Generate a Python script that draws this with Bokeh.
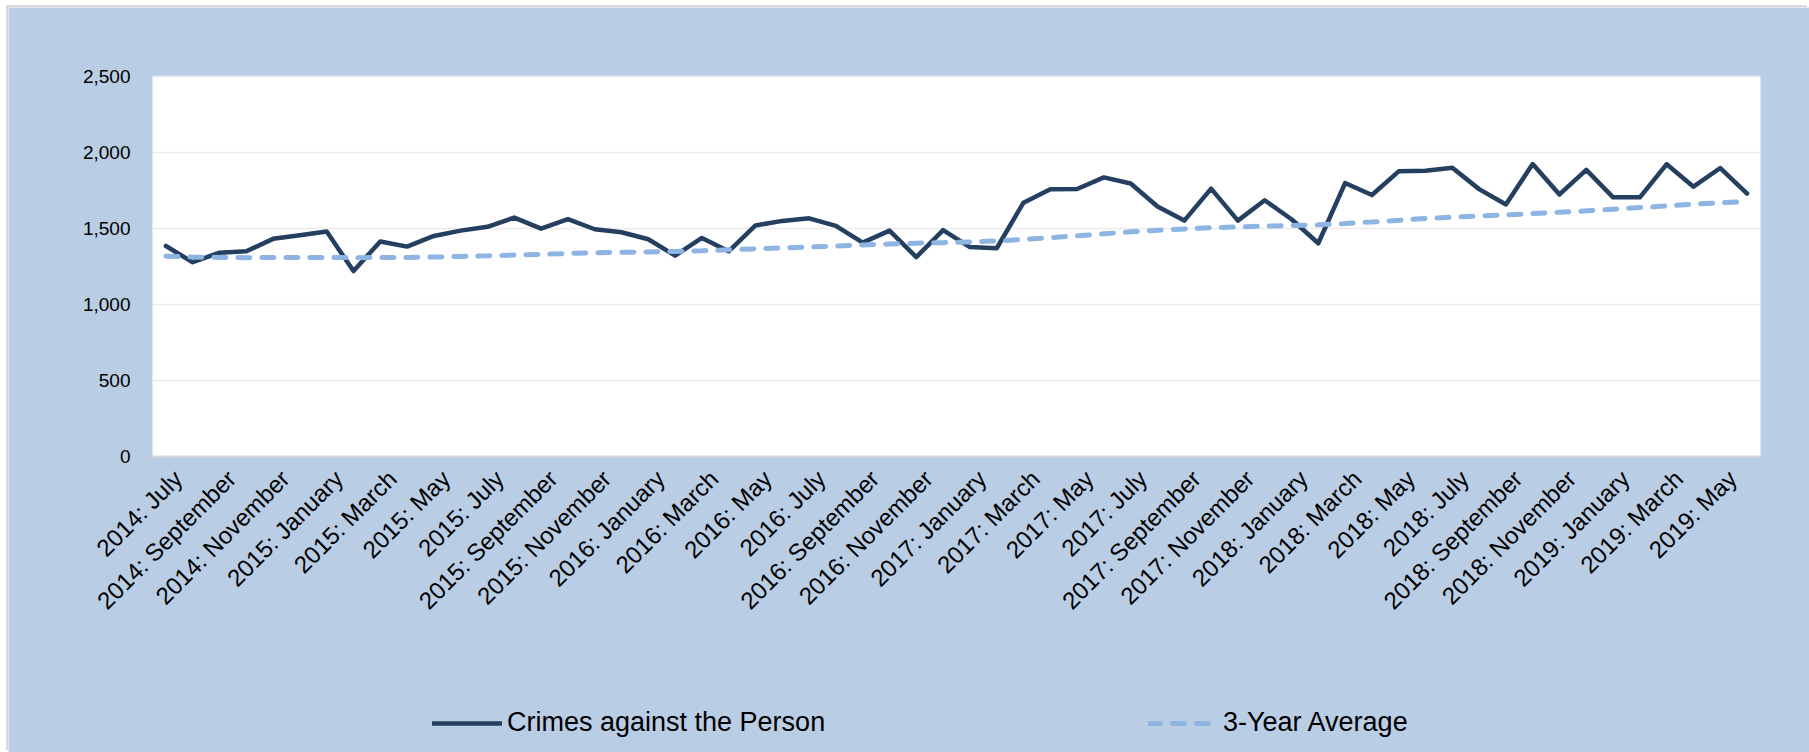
import math
from bokeh.plotting import figure
from bokeh.models import (Range1d, FixedTicker, Legend, LegendItem,
                          NumeralTickFormatter, BoxAnnotation)
from bokeh.embed import file_html
from bokeh.resources import INLINE

months = [
    "2014: July", "2014: August", "2014: September", "2014: October", "2014: November", "2014: December",
    "2015: January", "2015: February", "2015: March", "2015: April", "2015: May", "2015: June",
    "2015: July", "2015: August", "2015: September", "2015: October", "2015: November", "2015: December",
    "2016: January", "2016: February", "2016: March", "2016: April", "2016: May", "2016: June",
    "2016: July", "2016: August", "2016: September", "2016: October", "2016: November", "2016: December",
    "2017: January", "2017: February", "2017: March", "2017: April", "2017: May", "2017: June",
    "2017: July", "2017: August", "2017: September", "2017: October", "2017: November", "2017: December",
    "2018: January", "2018: February", "2018: March", "2018: April", "2018: May", "2018: June",
    "2018: July", "2018: August", "2018: September", "2018: October", "2018: November", "2018: December",
    "2019: January", "2019: February", "2019: March", "2019: April", "2019: May", "2019: June",
]

crimes = [
    1385, 1278, 1341, 1350, 1432, 1456, 1480, 1220, 1415, 1381, 1451, 1486,
    1511, 1572, 1499, 1561, 1495, 1475, 1429, 1322, 1438, 1350, 1520, 1550,
    1567, 1517, 1407, 1486, 1312, 1489, 1378, 1370, 1670, 1758, 1760, 1836,
    1796, 1645, 1552, 1762, 1552, 1686, 1561, 1403, 1799, 1720, 1876, 1880,
    1900, 1759, 1658, 1924, 1724, 1886, 1705, 1705, 1923, 1775, 1898, 1730,
]

avg3 = [
    1318, 1312, 1310, 1308, 1309, 1310, 1310, 1308, 1309, 1310, 1312, 1316,
    1320, 1325, 1330, 1336, 1340, 1343, 1346, 1349, 1354, 1360, 1366, 1372,
    1378, 1385, 1392, 1398, 1403, 1407, 1412, 1418, 1428, 1440, 1452, 1465,
    1478, 1489, 1497, 1505, 1510, 1516, 1520, 1524, 1533, 1543, 1554, 1566,
    1575, 1583, 1590, 1598, 1607, 1616, 1627, 1638, 1649, 1660, 1669, 1677,
]

tick_labels = months[::2]
y_ticks = [0, 500, 1000, 1500, 2000, 2500]
y_max = 2500

series_names = ["Crimes against the Person", "3-Year Average"]

x = list(range(len(months)))
x_lo, x_hi = -0.5, len(months) - 0.5

FONT = "Liberation Sans"
BG = "#B9CDE5"

# ---- layout (pixels inside the figure) ----
W, H = 1801, 745
PA_LEFT, PA_RIGHT = 144, 1752      # plot area left/right
PA_TOP, PA_BOTTOM = 69, 449        # plot area top (2,500) / bottom (0)
px_per_x = (PA_RIGHT - PA_LEFT) / (x_hi - x_lo)
px_per_y = (PA_BOTTOM - PA_TOP) / y_max
xr = Range1d(x_lo - PA_LEFT / px_per_x, x_hi + (W - PA_RIGHT) / px_per_x)
yr = Range1d(-(H - PA_BOTTOM) / px_per_y, y_max + PA_TOP / px_per_y)

p = figure(
    width=W, height=H,
    output_backend="svg", toolbar_location=None,
    x_range=xr, y_range=yr,
    min_border_left=0, min_border_right=0,
    min_border_top=0, min_border_bottom=0,
)
p.margin = (7, 0, 0, 8)
p.styles = {"box-shadow": "-2px -2px 0 0 #d9d9d9"}
p.background_fill_color = BG
p.border_fill_color = BG
p.outline_line_color = None

# white plotting area
p.add_layout(BoxAnnotation(left=x_lo, right=x_hi, bottom=0, top=y_max,
                           fill_color="white", fill_alpha=1,
                           line_color=None, level="image"))

r1 = p.line(x, crimes, line_color="#243F60", line_width=4.5,
            line_join="round", line_cap="round")
r2 = p.line(x, avg3, line_color="#8EB4E3", line_width=5,
            line_dash="12 12", line_cap="round")

# x axis at y = 0 (labels nudged right like the original's slanted labels)
LABEL_SHIFT = 0.45
xticks = [i + LABEL_SHIFT for i in x[::2]]
xa = p.xaxis[0]
xa.fixed_location = 0
xa.bounds = (x_lo, x_hi)
xa.ticker = FixedTicker(ticks=xticks)
xa.major_label_overrides = {t: lab for t, lab in zip(xticks, tick_labels)}
xa.major_label_orientation = math.pi / 4
xa.major_label_text_font = FONT
xa.major_label_text_font_size = "24px"
xa.major_label_text_color = "black"
xa.major_tick_line_color = None
xa.minor_tick_line_color = None
xa.axis_line_color = "#D9D9D9"
xa.axis_line_width = 2
xa.major_label_standoff = 12

# y axis at the left edge of the plot area
ya = p.yaxis[0]
ya.fixed_location = x_lo
ya.bounds = (0, y_max)
ya.ticker = FixedTicker(ticks=y_ticks)
ya.formatter = NumeralTickFormatter(format="0,0")
ya.major_label_text_font = FONT
ya.major_label_text_font_size = "19px"
ya.major_label_text_color = "black"
ya.major_tick_line_color = None
ya.minor_tick_line_color = None
ya.axis_line_color = None
ya.major_label_standoff = 16

p.xgrid.grid_line_color = None
p.ygrid.grid_line_color = "#EBEBEB"
p.ygrid.grid_line_width = 1.5
p.ygrid.ticker = FixedTicker(ticks=y_ticks[1:])
p.ygrid.cross_bounds = (x_lo, x_hi)


def make_legend(label, rend, loc):
    lg = Legend(items=[LegendItem(label=label, renderers=[rend])], location=loc)
    lg.background_fill_alpha = 0
    lg.border_line_color = None
    lg.padding = 0
    lg.margin = 0
    lg.label_text_font = FONT
    lg.label_text_font_size = "27px"
    lg.label_text_color = "black"
    lg.glyph_width = 70
    lg.glyph_height = 30
    lg.label_height = 30
    lg.label_standoff = 5
    return lg


p.add_layout(make_legend(series_names[0], r1, (424, 14)))
p.add_layout(make_legend(series_names[1], r2, (1140, 14)))

open("out.html", "w").write(file_html(p, INLINE))
